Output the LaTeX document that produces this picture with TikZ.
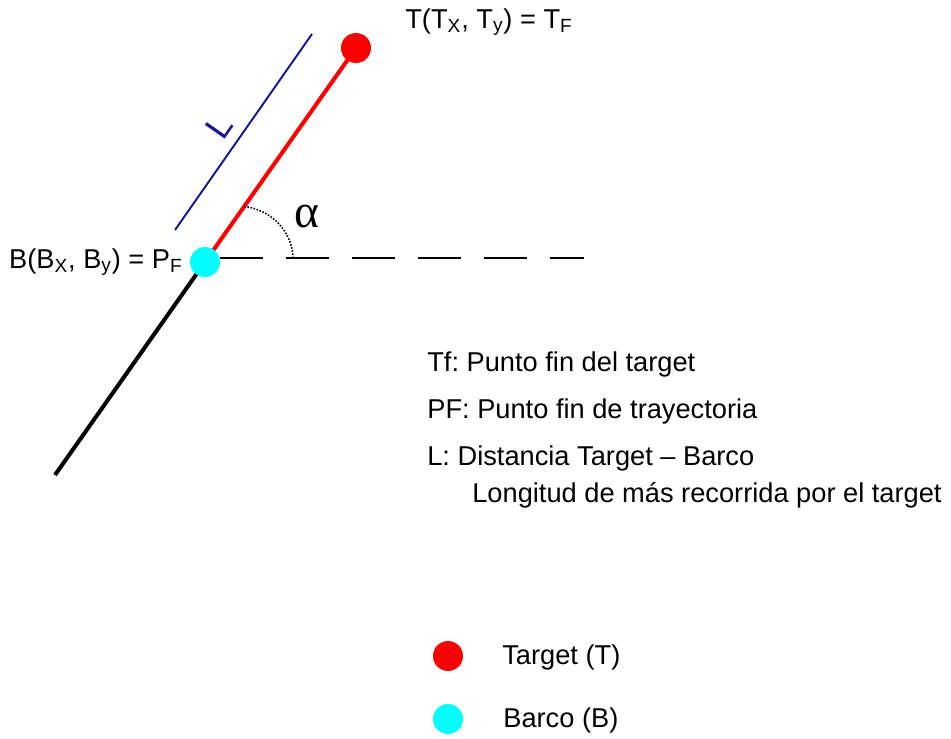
\documentclass[tikz,border=0pt]{standalone}
\usepackage{fontspec}
\setmainfont{Liberation Sans}
\newfontfamily\greekfont{Liberation Serif}
\frenchspacing
\usetikzlibrary{positioning, calc}
\definecolor{tgtred}{RGB}{255,0,0}
\definecolor{barcocyan}{RGB}{0,255,255}
\definecolor{lnavy}{RGB}{20,20,150}
\tikzset{
  dot/.style={circle, minimum size=0.6cm, inner sep=0pt},
  tgtdot/.style={dot, fill=tgtred},
  barcodot/.style={dot, fill=barcocyan},
  txt/.style={font=\fontsize{15.5}{18}\selectfont, inner sep=0pt, anchor=base west},
  track/.style={line width=2.3pt},
  refline/.style={line width=1.4pt, dash pattern=on 0.86cm off 0.46cm},
  lline/.style={line width=1.1pt, color=lnavy}
}

\begin{document}
\begin{tikzpicture}[x=0.02cm, y=-0.02cm]
  \useasboundingbox (0,0) rectangle (951,738);

  % Points of the trajectory
  \coordinate (b) at (205,262);
  \coordinate (t) at (356,48);
  \coordinate (tail) at (55,475);
  \coordinate (lA) at (175,230);
  \coordinate (lB) at (312,34);

  % Trajectory: past part and distance to target
  \draw[track, black] (tail) -- (b);
  \draw[track, tgtred] (b) -- (t);

  % Reference horizontal
  \draw[refline] (220,258) -- (584,258);

  % Angle alpha
  \coordinate (arcA) at ($(b)!0.26!(t)$);
  \draw[line width=0.9pt, dash pattern=on 0.9pt off 0.9pt] (arcA) .. controls (272,210) and (292,232) .. (293,257);
  \node[font=\greekfont\fontsize{27}{29}\selectfont, inner sep=0pt] (alpha) at (307,217) {α};

  % Distance L
  \draw[lline] (lA) -- (lB) node[pos=0.46, sloped, above=2pt, font=\fontsize{20}{22}\selectfont, text=lnavy] (lname) {L};

  % Target and barco
  \node[tgtdot] (T) at (t) {};
  \node[barcodot] (B) at (b) {};
  \node[txt] (tlbl) at (405,28) {T(T\textsubscript{X}, T\textsubscript{y}) = T\textsubscript{F}};
  \node[txt, anchor=base east] (blbl) at (183,268) {B(B\textsubscript{X}, B\textsubscript{y}) = P\textsubscript{F}};

  % Notes
  \node[txt] (tf) at (427,371) {Tf: Punto fin del target};
  \node[txt] (pf) at ($(tf.base west)+(0,47)$) {PF: Punto fin de trayectoria};
  \node[txt] (ldist) at ($(pf.base west)+(0,47)$) {L: Distancia Target -- Barco};
  \node[txt] (llong) at ($(ldist.base west)+(45,37)$) {Longitud de más recorrida por el target};

  % Legend
  \node[tgtdot] (legT) at (448,656) {};
  \node[barcodot] (legB) at (448,719) {};
  \node[txt] (legTtxt) at (502,664) {Target (T)};
  \node[txt] (legBtxt) at (503,727) {Barco (B)};
\end{tikzpicture}
\end{document}
